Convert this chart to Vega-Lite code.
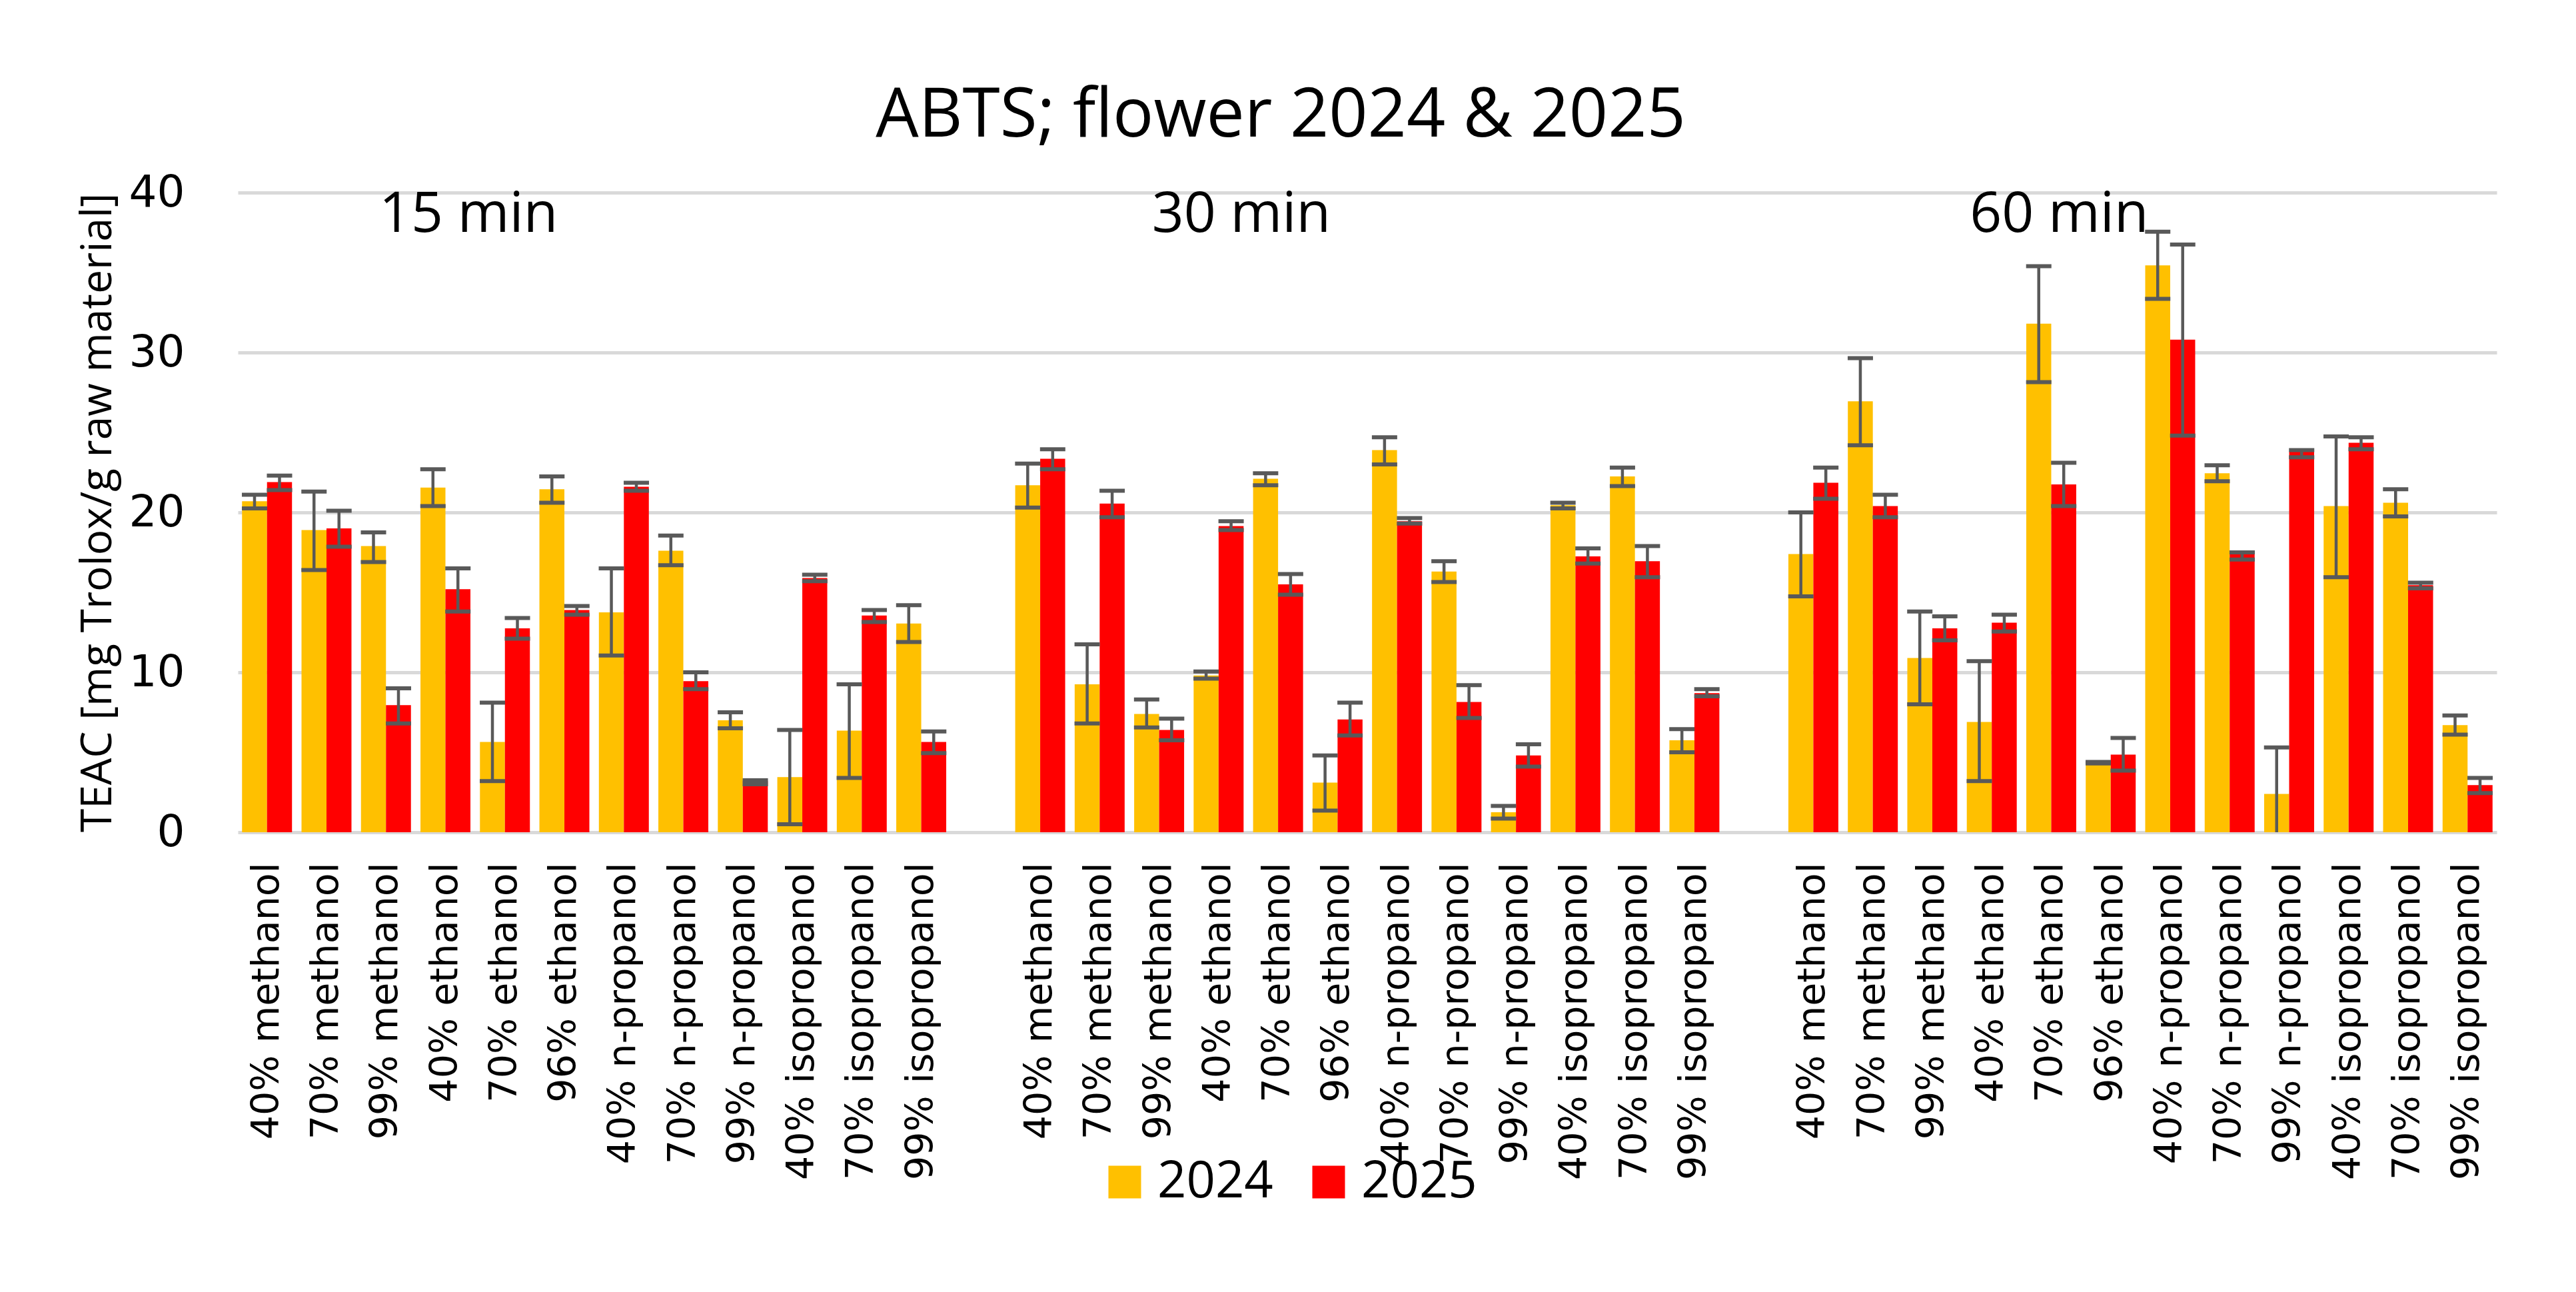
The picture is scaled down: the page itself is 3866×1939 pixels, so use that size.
{
  "$schema": "https://vega.github.io/schema/vega-lite/v6.json",
  "autosize": {"type": "none"},
  "width": 3390,
  "height": 960,
  "padding": {"left": 357, "top": 289, "right": 119, "bottom": 690},
  "background": "white",
  "title": {
    "text": "ABTS; flower 2024 & 2025",
    "font": "Open Sans",
    "fontSize": 102,
    "fontWeight": "normal",
    "color": "black",
    "anchor": "middle",
    "frame": "group",
    "baseline": "alphabetic",
    "offset": 82,
    "dx": -130,
    "dy": 133
  },
  "config": {
    "view": {"stroke": null},
    "axis": {"labelColor": "black", "titleColor": "black"}
  },
  "resolve": {"scale": {"x": "independent"}},
  "layer": [
    {
      "data": {
        "values": [
          {"slot": "15|40% methanol", "year": "2024", "v": 20.7, "lo": 20.25, "hi": 21.1},
          {"slot": "15|40% methanol", "year": "2025", "v": 21.9, "lo": 21.4, "hi": 22.3},
          {"slot": "15|70% methanol", "year": "2024", "v": 18.9, "lo": 16.4, "hi": 21.3},
          {"slot": "15|70% methanol", "year": "2025", "v": 19.0, "lo": 17.85, "hi": 20.1},
          {"slot": "15|99% methanol", "year": "2024", "v": 17.9, "lo": 16.9, "hi": 18.75},
          {"slot": "15|99% methanol", "year": "2025", "v": 7.95, "lo": 6.8, "hi": 9.0},
          {"slot": "15|40% ethanol", "year": "2024", "v": 21.55, "lo": 20.4, "hi": 22.7},
          {"slot": "15|40% ethanol", "year": "2025", "v": 15.2, "lo": 13.8, "hi": 16.5},
          {"slot": "15|70% ethanol", "year": "2024", "v": 5.65, "lo": 3.2, "hi": 8.1},
          {"slot": "15|70% ethanol", "year": "2025", "v": 12.75, "lo": 12.1, "hi": 13.4},
          {"slot": "15|96% ethanol", "year": "2024", "v": 21.45, "lo": 20.6, "hi": 22.25},
          {"slot": "15|96% ethanol", "year": "2025", "v": 13.9, "lo": 13.6, "hi": 14.15},
          {"slot": "15|40% n-propanol", "year": "2024", "v": 13.75, "lo": 11.05, "hi": 16.5},
          {"slot": "15|40% n-propanol", "year": "2025", "v": 21.6, "lo": 21.35, "hi": 21.85},
          {"slot": "15|70% n-propanol", "year": "2024", "v": 17.6, "lo": 16.7, "hi": 18.55},
          {"slot": "15|70% n-propanol", "year": "2025", "v": 9.45, "lo": 8.95, "hi": 10.0},
          {"slot": "15|99% n-propanol", "year": "2024", "v": 7.0, "lo": 6.5, "hi": 7.5},
          {"slot": "15|99% n-propanol", "year": "2025", "v": 3.2, "lo": 3.0, "hi": 3.25},
          {"slot": "15|40% isopropanol", "year": "2024", "v": 3.45, "lo": 0.5, "hi": 6.4},
          {"slot": "15|40% isopropanol", "year": "2025", "v": 15.9, "lo": 15.7, "hi": 16.1},
          {"slot": "15|70% isopropanol", "year": "2024", "v": 6.35, "lo": 3.4, "hi": 9.25},
          {"slot": "15|70% isopropanol", "year": "2025", "v": 13.55, "lo": 13.15, "hi": 13.9},
          {"slot": "15|99% isopropanol", "year": "2024", "v": 13.05, "lo": 11.9, "hi": 14.2},
          {"slot": "15|99% isopropanol", "year": "2025", "v": 5.65, "lo": 4.95, "hi": 6.3},

          {"slot": "30|40% methanol", "year": "2024", "v": 21.7, "lo": 20.3, "hi": 23.05},
          {"slot": "30|40% methanol", "year": "2025", "v": 23.35, "lo": 22.7, "hi": 23.95},
          {"slot": "30|70% methanol", "year": "2024", "v": 9.25, "lo": 6.8, "hi": 11.75},
          {"slot": "30|70% methanol", "year": "2025", "v": 20.55, "lo": 19.7, "hi": 21.35},
          {"slot": "30|99% methanol", "year": "2024", "v": 7.4, "lo": 6.55, "hi": 8.3},
          {"slot": "30|99% methanol", "year": "2025", "v": 6.4, "lo": 5.75, "hi": 7.1},
          {"slot": "30|40% ethanol", "year": "2024", "v": 9.8, "lo": 9.6, "hi": 10.05},
          {"slot": "30|40% ethanol", "year": "2025", "v": 19.15, "lo": 18.9, "hi": 19.45},
          {"slot": "30|70% ethanol", "year": "2024", "v": 22.1, "lo": 21.7, "hi": 22.45},
          {"slot": "30|70% ethanol", "year": "2025", "v": 15.5, "lo": 14.85, "hi": 16.15},
          {"slot": "30|96% ethanol", "year": "2024", "v": 3.1, "lo": 1.35, "hi": 4.8},
          {"slot": "30|96% ethanol", "year": "2025", "v": 7.05, "lo": 6.05, "hi": 8.1},
          {"slot": "30|40% n-propanol", "year": "2024", "v": 23.9, "lo": 23.0, "hi": 24.7},
          {"slot": "30|40% n-propanol", "year": "2025", "v": 19.45, "lo": 19.3, "hi": 19.65},
          {"slot": "30|70% n-propanol", "year": "2024", "v": 16.3, "lo": 15.65, "hi": 16.95},
          {"slot": "30|70% n-propanol", "year": "2025", "v": 8.15, "lo": 7.15, "hi": 9.2},
          {"slot": "30|99% n-propanol", "year": "2024", "v": 1.25, "lo": 0.85, "hi": 1.65},
          {"slot": "30|99% n-propanol", "year": "2025", "v": 4.8, "lo": 4.1, "hi": 5.5},
          {"slot": "30|40% isopropanol", "year": "2024", "v": 20.45, "lo": 20.25, "hi": 20.6},
          {"slot": "30|40% isopropanol", "year": "2025", "v": 17.25, "lo": 16.8, "hi": 17.75},
          {"slot": "30|70% isopropanol", "year": "2024", "v": 22.25, "lo": 21.65, "hi": 22.8},
          {"slot": "30|70% isopropanol", "year": "2025", "v": 16.95, "lo": 15.95, "hi": 17.9},
          {"slot": "30|99% isopropanol", "year": "2024", "v": 5.75, "lo": 5.0, "hi": 6.45},
          {"slot": "30|99% isopropanol", "year": "2025", "v": 8.7, "lo": 8.5, "hi": 8.95},

          {"slot": "60|40% methanol", "year": "2024", "v": 17.4, "lo": 14.75, "hi": 20.0},
          {"slot": "60|40% methanol", "year": "2025", "v": 21.85, "lo": 20.85, "hi": 22.8},
          {"slot": "60|70% methanol", "year": "2024", "v": 26.95, "lo": 24.2, "hi": 29.65},
          {"slot": "60|70% methanol", "year": "2025", "v": 20.4, "lo": 19.7, "hi": 21.1},
          {"slot": "60|99% methanol", "year": "2024", "v": 10.9, "lo": 8.0, "hi": 13.8},
          {"slot": "60|99% methanol", "year": "2025", "v": 12.75, "lo": 12.0, "hi": 13.5},
          {"slot": "60|40% ethanol", "year": "2024", "v": 6.9, "lo": 3.2, "hi": 10.7},
          {"slot": "60|40% ethanol", "year": "2025", "v": 13.1, "lo": 12.55, "hi": 13.6},
          {"slot": "60|70% ethanol", "year": "2024", "v": 31.8, "lo": 28.15, "hi": 35.4},
          {"slot": "60|70% ethanol", "year": "2025", "v": 21.75, "lo": 20.4, "hi": 23.1},
          {"slot": "60|96% ethanol", "year": "2024", "v": 4.35, "lo": 4.3, "hi": 4.4},
          {"slot": "60|96% ethanol", "year": "2025", "v": 4.85, "lo": 3.85, "hi": 5.9},
          {"slot": "60|40% n-propanol", "year": "2024", "v": 35.45, "lo": 33.35, "hi": 37.55},
          {"slot": "60|40% n-propanol", "year": "2025", "v": 30.8, "lo": 24.8, "hi": 36.75},
          {"slot": "60|70% n-propanol", "year": "2024", "v": 22.45, "lo": 21.95, "hi": 22.95},
          {"slot": "60|70% n-propanol", "year": "2025", "v": 17.4, "lo": 17.05, "hi": 17.5},
          {"slot": "60|99% n-propanol", "year": "2024", "v": 2.4, "lo": -0.5, "hi": 5.3},
          {"slot": "60|99% n-propanol", "year": "2025", "v": 23.8, "lo": 23.45, "hi": 23.9},
          {"slot": "60|40% isopropanol", "year": "2024", "v": 20.4, "lo": 15.95, "hi": 24.75},
          {"slot": "60|40% isopropanol", "year": "2025", "v": 24.35, "lo": 23.95, "hi": 24.7},
          {"slot": "60|70% isopropanol", "year": "2024", "v": 20.6, "lo": 19.75, "hi": 21.45},
          {"slot": "60|70% isopropanol", "year": "2025", "v": 15.45, "lo": 15.25, "hi": 15.6},
          {"slot": "60|99% isopropanol", "year": "2024", "v": 6.7, "lo": 6.1, "hi": 7.3},
          {"slot": "60|99% isopropanol", "year": "2025", "v": 2.95, "lo": 2.45, "hi": 3.4}
        ]
      },
      "encoding": {
        "x": {
          "field": "slot",
          "type": "nominal",
          "sort": null,
          "scale": {
            "domain": [
              "15|40% methanol", "15|70% methanol", "15|99% methanol", "15|40% ethanol", "15|70% ethanol", "15|96% ethanol",
              "15|40% n-propanol", "15|70% n-propanol", "15|99% n-propanol", "15|40% isopropanol", "15|70% isopropanol", "15|99% isopropanol",
              "gap1",
              "30|40% methanol", "30|70% methanol", "30|99% methanol", "30|40% ethanol", "30|70% ethanol", "30|96% ethanol",
              "30|40% n-propanol", "30|70% n-propanol", "30|99% n-propanol", "30|40% isopropanol", "30|70% isopropanol", "30|99% isopropanol",
              "gap2",
              "60|40% methanol", "60|70% methanol", "60|99% methanol", "60|40% ethanol", "60|70% ethanol", "60|96% ethanol",
              "60|40% n-propanol", "60|70% n-propanol", "60|99% n-propanol", "60|40% isopropanol", "60|70% isopropanol", "60|99% isopropanol"
            ],
            "paddingInner": 0.16,
            "paddingOuter": 0.07
          },
          "axis": {
            "title": null,
            "labelExpr": "indexof(datum.value, '|') > 0 ? split(datum.value, '|')[1] : ''",
            "labelAngle": -90,
            "labelFont": "DejaVu Sans",
            "labelFontSize": 57,
            "labelPadding": 45,
            "labelLimit": 0,
            "ticks": false,
            "domain": false,
            "grid": false
          }
        },
        "xOffset": {
          "field": "year",
          "type": "nominal",
          "scale": {"domain": ["2024", "2025"], "paddingInner": 0, "paddingOuter": 0}
        }
      },
      "layer": [
        {
          "mark": {"type": "bar"},
          "encoding": {
            "y": {
              "field": "v",
              "type": "quantitative",
              "scale": {"domain": [0, 40], "nice": false},
              "axis": {
                "values": [0, 10, 20, 30, 40],
                "title": "TEAC [mg Trolox/g raw material]",
                "titleFont": "Open Sans",
                "titleFontSize": 64,
                "titleFontWeight": "normal",
                "titlePadding": 14,
                "labelFont": "DejaVu Sans",
                "labelFontSize": 66,
                "labelPadding": 80,
                "ticks": false,
                "domain": false,
                "grid": true,
                "gridColor": "#D9D9D9",
                "gridWidth": 5
              }
            },
            "color": {
              "field": "year",
              "type": "nominal",
              "scale": {"domain": ["2024", "2025"], "range": ["#FFC000", "#FF0000"]},
              "legend": {
                "orient": "none",
                "legendX": 1293,
                "legendY": 1447,
                "direction": "horizontal",
                "title": null,
                "symbolType": "square",
                "symbolSize": 2401,
                "symbolStrokeWidth": 0,
                "labelFont": "Open Sans",
                "labelFontSize": 76,
                "labelColor": "black",
                "labelOffset": 11,
                "labelLimit": 0,
                "columnPadding": 45
              }
            }
          }
        },
        {
          "mark": {"type": "rule", "color": "#595959", "strokeWidth": 4.5, "clip": true},
          "encoding": {
            "y": {"field": "lo", "type": "quantitative"},
            "y2": {"field": "hi"}
          }
        },
        {
          "mark": {"type": "tick", "orient": "horizontal", "color": "#595959", "size": 38, "thickness": 6, "opacity": 1, "clip": true},
          "encoding": {
            "y": {"field": "lo", "type": "quantitative"}
          }
        },
        {
          "mark": {"type": "tick", "orient": "horizontal", "color": "#595959", "size": 38, "thickness": 6, "opacity": 1, "clip": true},
          "encoding": {
            "y": {"field": "hi", "type": "quantitative"}
          }
        }
      ]
    },
    {
      "data": {
        "values": [
          {"label": "15 min", "u": 3.88, "yv": 37.55},
          {"label": "30 min", "u": 16.88, "yv": 37.55},
          {"label": "60 min", "u": 30.64, "yv": 37.55}
        ]
      },
      "mark": {"type": "text", "font": "Open Sans", "fontSize": 84, "align": "center", "baseline": "alphabetic", "color": "black"},
      "encoding": {
        "x": {"field": "u", "type": "quantitative", "scale": {"domain": [0, 38], "nice": false, "zero": false}, "axis": null},
        "y": {"field": "yv", "type": "quantitative"},
        "text": {"field": "label"}
      }
    }
  ]
}
